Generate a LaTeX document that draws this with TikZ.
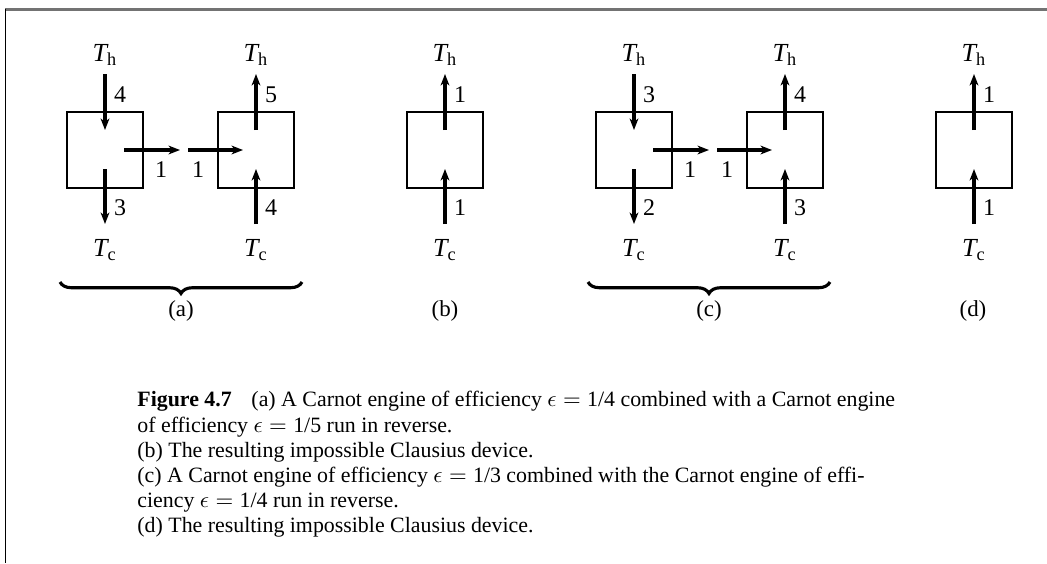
\documentclass[tikz,border=0pt]{standalone}
\usepackage{fontspec}
\setmainfont{Liberation Serif}
\usetikzlibrary{arrows.meta,decorations.pathreplacing}
\newcommand{\Tlab}[1]{$\mathit{T}_{\mathrm{#1}}$}
\newcommand{\eps}[1]{$\epsilon = \mbox{#1}$}
\tikzset{
  engine/.style={draw, line width=1pt, minimum width=36.5pt, minimum height=36.5pt, inner sep=0pt},
  flow/.style={line width=1.5pt, -{Stealth[length=5.5pt,width=4.2pt,inset=1.6pt]}},
  temp/.style={font=\fontsize{12.5}{14}\selectfont, inner sep=0pt},
  qty/.style={font=\fontsize{11.5}{13}\selectfont, inner sep=0pt},
  grp/.style={decorate, decoration={brace, amplitude=5.5pt, mirror}, line width=1.5pt},
  sublabel/.style={font=\fontsize{11}{13}\selectfont, inner sep=0pt},
  captionline/.style={anchor=base west, inner sep=0pt, font=\fontsize{10.5}{12}\selectfont}
}
\begin{document}
\begin{tikzpicture}[x=0.48pt,y=-0.48pt]
\useasboundingbox (0,0) rectangle (1047,563);
% frame lines
\draw[black!55, line width=1pt] (5,9.5) -- (1047,9.5);
\draw[line width=0.55pt] (5.3,9) -- (5.3,563);

% ---------- (a) ----------
\node[engine] (A1) at (105,150) {};
\node[engine] (A2) at (256,150) {};
\node[temp] (A1h) at (105,55) {\Tlab{h}};
\node[temp] (A1c) at (105,250) {\Tlab{c}};
\node[temp] (A2h) at (256,55) {\Tlab{h}};
\node[temp] (A2c) at (256,250) {\Tlab{c}};
\coordinate (a1t) at (105,74);  \coordinate (a1ti) at (105,130);
\coordinate (a1bi) at (105,169); \coordinate (a1b) at (105,224);
\coordinate (a1ws) at (124,150); \coordinate (a1we) at (180,150);
\coordinate (a2ws) at (188,150); \coordinate (a2we) at (243,150);
\coordinate (a2t) at (256,74);  \coordinate (a2ti) at (256,130);
\coordinate (a2bi) at (256,169); \coordinate (a2b) at (256,224);
\draw[flow] (a1t) -- (a1ti);
\draw[flow] (a1bi) -- (a1b);
\draw[flow] (a1ws) -- (a1we);
\draw[flow] (a2ws) -- (a2we);
\draw[flow] (a2ti) -- (a2t);
\draw[flow] (a2b) -- (a2bi);
\node[qty] (qa1) at (120,95) {4};
\node[qty] (qa2) at (120,208) {3};
\node[qty] (qa3) at (161,170) {1};
\node[qty] (qa4) at (198,170) {1};
\node[qty] (qa5) at (271,95) {5};
\node[qty] (qa6) at (271,208) {4};

% ---------- (b) ----------
\node[engine] (B) at (445,150) {};
\node[temp] (Bh) at (445,55) {\Tlab{h}};
\node[temp] (Bc) at (445,250) {\Tlab{c}};
\coordinate (bt) at (445,74);  \coordinate (bti) at (445,130);
\coordinate (bbi) at (445,169); \coordinate (bb) at (445,224);
\draw[flow] (bti) -- (bt);
\draw[flow] (bb) -- (bbi);
\node[qty] (qb1) at (460,95) {1};
\node[qty] (qb2) at (460,208) {1};

% ---------- (c) ----------
\node[engine] (C1) at (634,150) {};
\node[engine] (C2) at (785,150) {};
\node[temp] (C1h) at (634,55) {\Tlab{h}};
\node[temp] (C1c) at (634,250) {\Tlab{c}};
\node[temp] (C2h) at (785,55) {\Tlab{h}};
\node[temp] (C2c) at (785,250) {\Tlab{c}};
\coordinate (c1t) at (634,74);  \coordinate (c1ti) at (634,130);
\coordinate (c1bi) at (634,169); \coordinate (c1b) at (634,224);
\coordinate (c1ws) at (653,150); \coordinate (c1we) at (709,150);
\coordinate (c2ws) at (717,150); \coordinate (c2we) at (772,150);
\coordinate (c2t) at (785,74);  \coordinate (c2ti) at (785,130);
\coordinate (c2bi) at (785,169); \coordinate (c2b) at (785,224);
\draw[flow] (c1t) -- (c1ti);
\draw[flow] (c1bi) -- (c1b);
\draw[flow] (c1ws) -- (c1we);
\draw[flow] (c2ws) -- (c2we);
\draw[flow] (c2ti) -- (c2t);
\draw[flow] (c2b) -- (c2bi);
\node[qty] (qc1) at (649,95) {3};
\node[qty] (qc2) at (649,208) {2};
\node[qty] (qc3) at (690,170) {1};
\node[qty] (qc4) at (727,170) {1};
\node[qty] (qc5) at (800,95) {4};
\node[qty] (qc6) at (800,208) {3};

% ---------- (d) ----------
\node[engine] (D) at (974,150) {};
\node[temp] (Dh) at (974,55) {\Tlab{h}};
\node[temp] (Dc) at (974,250) {\Tlab{c}};
\coordinate (dt) at (974,74);  \coordinate (dti) at (974,130);
\coordinate (dbi) at (974,169); \coordinate (db) at (974,224);
\draw[flow] (dti) -- (dt);
\draw[flow] (db) -- (dbi);
\node[qty] (qd1) at (989,95) {1};
\node[qty] (qd2) at (989,208) {1};

% ---------- braces and sub-labels ----------
\coordinate (bra1) at (60,282);  \coordinate (bra2) at (302,282);
\coordinate (brc1) at (588,282); \coordinate (brc2) at (830,282);
\draw[grp] (bra1) -- (bra2);
\draw[grp] (brc1) -- (brc2);
\node[sublabel] (la) at (181,311) {(a)};
\node[sublabel] (lb) at (445,311) {(b)};
\node[sublabel] (lc) at (709,311) {(c)};
\node[sublabel] (ld) at (973,311) {(d)};

% ---------- caption ----------
\node[captionline] (cap1) at (137,406) {\textbf{Figure 4.7}\hspace{0.9em}(a) A Carnot engine of efficiency \eps{1/4} combined with a Carnot engine};
\node[captionline] (cap2) at (137,432) {of efficiency \eps{1/5} run in reverse.};
\node[captionline] (cap3) at (137,457) {(b) The resulting impossible Clausius device.};
\node[captionline] (cap4) at (137,482) {(c) A Carnot engine of efficiency \eps{1/3} combined with the Carnot engine of effi-};
\node[captionline] (cap5) at (137,507) {ciency \eps{1/4} run in reverse.};
\node[captionline] (cap6) at (137,532) {(d) The resulting impossible Clausius device.};
\end{tikzpicture}
\end{document}
